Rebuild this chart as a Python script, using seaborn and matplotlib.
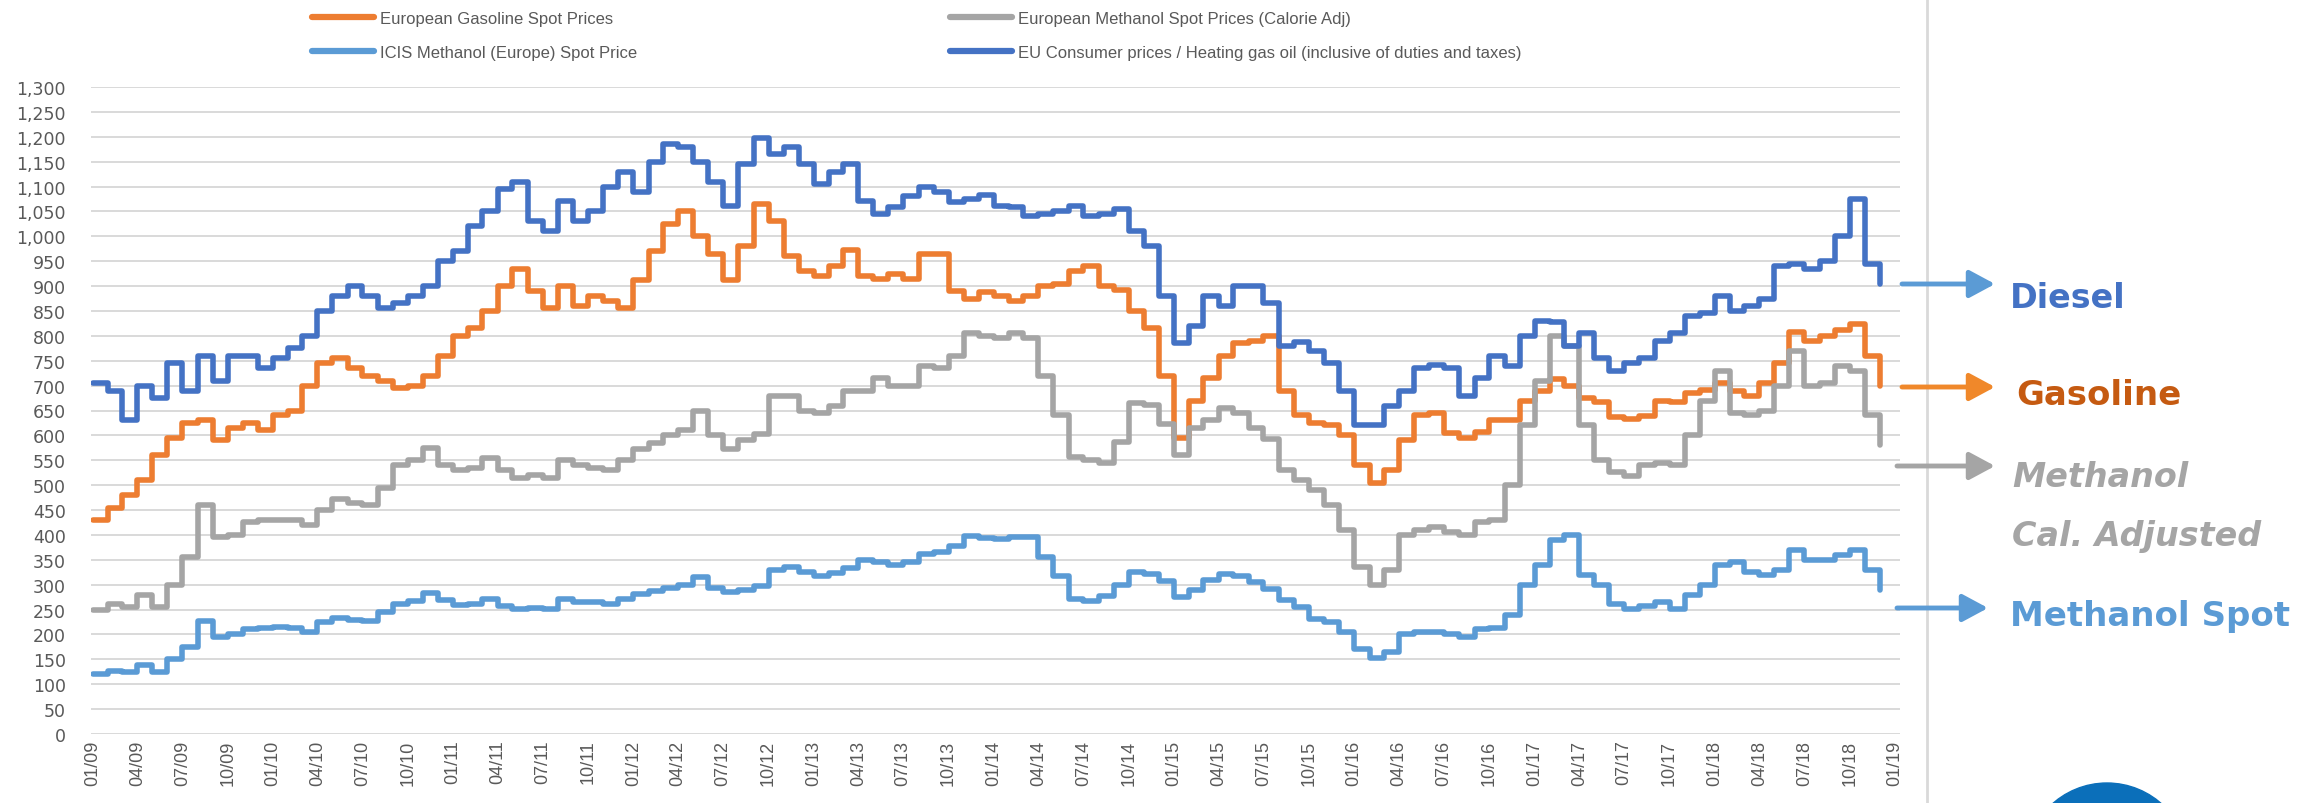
import pandas as pd
import seaborn as sns
import matplotlib.pyplot as plt
from matplotlib.lines import Line2D
from matplotlib.patches import Circle
from matplotlib.ticker import MultipleLocator, FuncFormatter

# monthly points, Jan 2009 - Dec 2018
months = pd.date_range("2009-01-01", periods=120, freq="MS")

gasoline = [430, 455, 480, 510, 560, 595, 625, 630, 590, 615, 625, 610, 640, 650, 700, 745, 755, 735, 720, 710, 695, 700, 720, 760,
            800, 815, 850, 900, 935, 890, 855, 900, 860, 880, 870, 855, 912, 970, 1025, 1050, 1000, 965, 912, 980, 1065, 1030, 960, 930,
            920, 940, 972, 920, 915, 925, 915, 965, 965, 890, 875, 888, 880, 870, 880, 900, 905, 930, 940, 900, 893, 850, 815, 720,
            595, 670, 715, 760, 785, 790, 800, 690, 640, 625, 620, 600, 540, 505, 530, 590, 640, 645, 605, 595, 607, 630, 630, 670,
            690, 713, 700, 675, 668, 636, 632, 638, 670, 668, 685, 692, 705, 690, 680, 705, 745, 808, 790, 800, 812, 823, 760, 700]

methanol_cal = [250, 262, 255, 280, 255, 300, 355, 460, 395, 400, 425, 430, 430, 430, 420, 450, 472, 465, 460, 495, 540, 550, 575, 540,
                530, 535, 555, 530, 515, 520, 515, 550, 540, 535, 530, 550, 573, 585, 600, 610, 648, 600, 572, 590, 603, 680, 680, 650,
                645, 660, 690, 690, 715, 700, 700, 740, 735, 760, 805, 800, 795, 805, 795, 720, 640, 556, 550, 545, 586, 665, 662, 622,
                560, 615, 630, 655, 645, 615, 592, 530, 510, 490, 460, 410, 335, 300, 330, 400, 410, 415, 405, 400, 425, 430, 500, 620,
                710, 800, 780, 620, 550, 526, 518, 540, 545, 540, 600, 670, 730, 645, 640, 650, 700, 770, 700, 705, 740, 730, 640, 581]

methanol_spot = [120, 127, 125, 138, 125, 150, 175, 228, 195, 200, 210, 213, 215, 213, 205, 225, 234, 230, 228, 245, 262, 268, 283, 270,
                 260, 262, 272, 258, 252, 253, 251, 272, 265, 265, 262, 272, 281, 288, 293, 300, 316, 293, 285, 290, 297, 330, 335, 325,
                 318, 323, 333, 350, 345, 340, 345, 362, 365, 378, 397, 393, 392, 395, 395, 355, 318, 272, 268, 278, 300, 325, 322, 308,
                 275, 290, 310, 322, 318, 305, 292, 270, 255, 232, 225, 205, 170, 152, 165, 200, 204, 205, 200, 195, 210, 213, 240, 300,
                 340, 390, 400, 320, 300, 262, 252, 258, 265, 252, 280, 300, 340, 345, 325, 320, 330, 370, 350, 350, 360, 370, 330, 289]

diesel = [705, 690, 630, 700, 675, 745, 690, 760, 710, 760, 760, 735, 755, 775, 800, 850, 880, 900, 880, 855, 865, 880, 900, 950,
          970, 1020, 1050, 1095, 1110, 1030, 1010, 1070, 1030, 1050, 1100, 1130, 1090, 1150, 1185, 1180, 1150, 1110, 1060, 1145, 1198, 1165, 1180, 1145,
          1105, 1130, 1145, 1070, 1045, 1058, 1080, 1100, 1090, 1068, 1075, 1083, 1060, 1058, 1040, 1045, 1050, 1060, 1040, 1045, 1055, 1010, 980, 880,
          785, 820, 880, 860, 900, 900, 865, 780, 788, 770, 745, 690, 620, 620, 660, 690, 735, 742, 735, 680, 715, 760, 740, 800,
          830, 828, 780, 805, 755, 730, 745, 755, 790, 805, 840, 845, 880, 850, 860, 875, 940, 945, 935, 950, 1000, 1075, 945, 905]

names = ["European Gasoline Spot Prices",
         "European Methanol Spot Prices (Calorie Adj)",
         "ICIS Methanol (Europe) Spot Price",
         "EU Consumer prices / Heating gas oil (inclusive of duties and taxes)"]
colors = ["#ED7D31", "#A5A5A5", "#5B9BD5", "#4472C4"]

df = pd.DataFrame({"date": months, names[0]: gasoline, names[1]: methanol_cal,
                   names[2]: methanol_spot, names[3]: diesel})
df = df.melt(id_vars="date", var_name="series", value_name="price")

sns.set_theme(style="white")
plt.rcParams["font.family"] = ["DejaVu Sans"]

W, H = 2309, 804
fig = plt.figure(figsize=(W / 100, H / 100), dpi=100)
ax = fig.add_axes([91 / W, 1 - 735 / H, (1900 - 91) / W, (735 - 88) / H])

sns.lineplot(data=df, x="date", y="price", hue="series", hue_order=names,
             palette=dict(zip(names, colors)), linewidth=4, drawstyle="steps-post",
             solid_joinstyle="round", solid_capstyle="round", legend=False, ax=ax)

ax.set_ylim(0, 1300)
ax.yaxis.set_major_locator(MultipleLocator(50))
ax.yaxis.set_major_formatter(FuncFormatter(lambda v, p: f"{v:,.0f}"))
ticks = pd.date_range("2009-01-01", "2019-01-01", freq="3MS")
ax.set_xticks(ticks)
ax.set_xticklabels([t.strftime("%m/%y") for t in ticks], family="Liberation Sans", fontsize=13)
ax.set_xlim(pd.Timestamp("2009-01-01") - pd.Timedelta(days=4), pd.Timestamp("2019-01-01") + pd.Timedelta(days=10))
ax.tick_params(axis="x", labelrotation=90, length=0, pad=4, labelcolor="#595959")
ax.tick_params(axis="y", length=0, pad=18, labelsize=12.5, labelcolor="#595959")
ax.grid(axis="y", color="#D9D9D9", linewidth=1.4)
ax.grid(axis="x", visible=False)
ax.set_xlabel("")
ax.set_ylabel("")
sns.despine(ax=ax, left=True, bottom=True)

# legend, two columns
def make_legend(idx, x):
    handles = [Line2D([], [], color=colors[i], lw=4.5, solid_capstyle="round") for i in idx]
    leg = fig.legend(handles, [names[i] for i in idx], loc="upper left",
                     bbox_to_anchor=(x / W, 1 - 12 / H), frameon=False,
                     handlelength=3.7, handletextpad=0.35, borderpad=0, borderaxespad=0,
                     labelspacing=1.15, prop={"family": "Liberation Sans", "size": 12},
                     labelcolor="#595959")
    return leg

make_legend([0, 2], 312)
make_legend([1, 3], 950)

# right-hand labels, drawn in pixel space
ov = fig.add_axes([0, 0, 1, 1], zorder=5)
ov.set_xlim(0, W)
ov.set_ylim(H, 0)
ov.axis("off")
ov.patch.set_alpha(0)

ov.plot([1927, 1927], [0, H], color="#D9D9D9", lw=2)

arrows = [(1902, 1995, 285, "#5B9BD5"), (1902, 1995, 388, "#F0882A"),
          (1897, 1995, 467, "#A5A5A5"), (1897, 1988, 609, "#5B9BD5")]
for x0, x1, y, c in arrows:
    ov.annotate("", xy=(x1, y), xytext=(x0, y),
                arrowprops=dict(arrowstyle="-|>,head_length=1.3,head_width=0.7",
                                color=c, lw=3.5, shrinkA=0, shrinkB=0))

ov.text(2010, 308, "Diesel", color="#4472C4", fontsize=24, fontweight="bold", va="baseline")
ov.text(2016, 405, "Gasoline", color="#C55A11", fontsize=24.5, fontweight="bold", va="baseline")
ov.text(2012, 487, "Methanol", color="#A5A5A5", fontsize=24, fontweight="bold",
        fontstyle="italic", va="baseline")
ov.text(2012, 546, "Cal. Adjusted", color="#A5A5A5", fontsize=24, fontweight="bold",
        fontstyle="italic", va="baseline")
ov.text(2010, 626, "Methanol Spot", color="#5B9BD5", fontsize=24.5, fontweight="bold", va="baseline")

ov.add_patch(Circle((2107, 866), 82, color="#0B6FBA"))

plt.savefig("out.png", dpi=100)
